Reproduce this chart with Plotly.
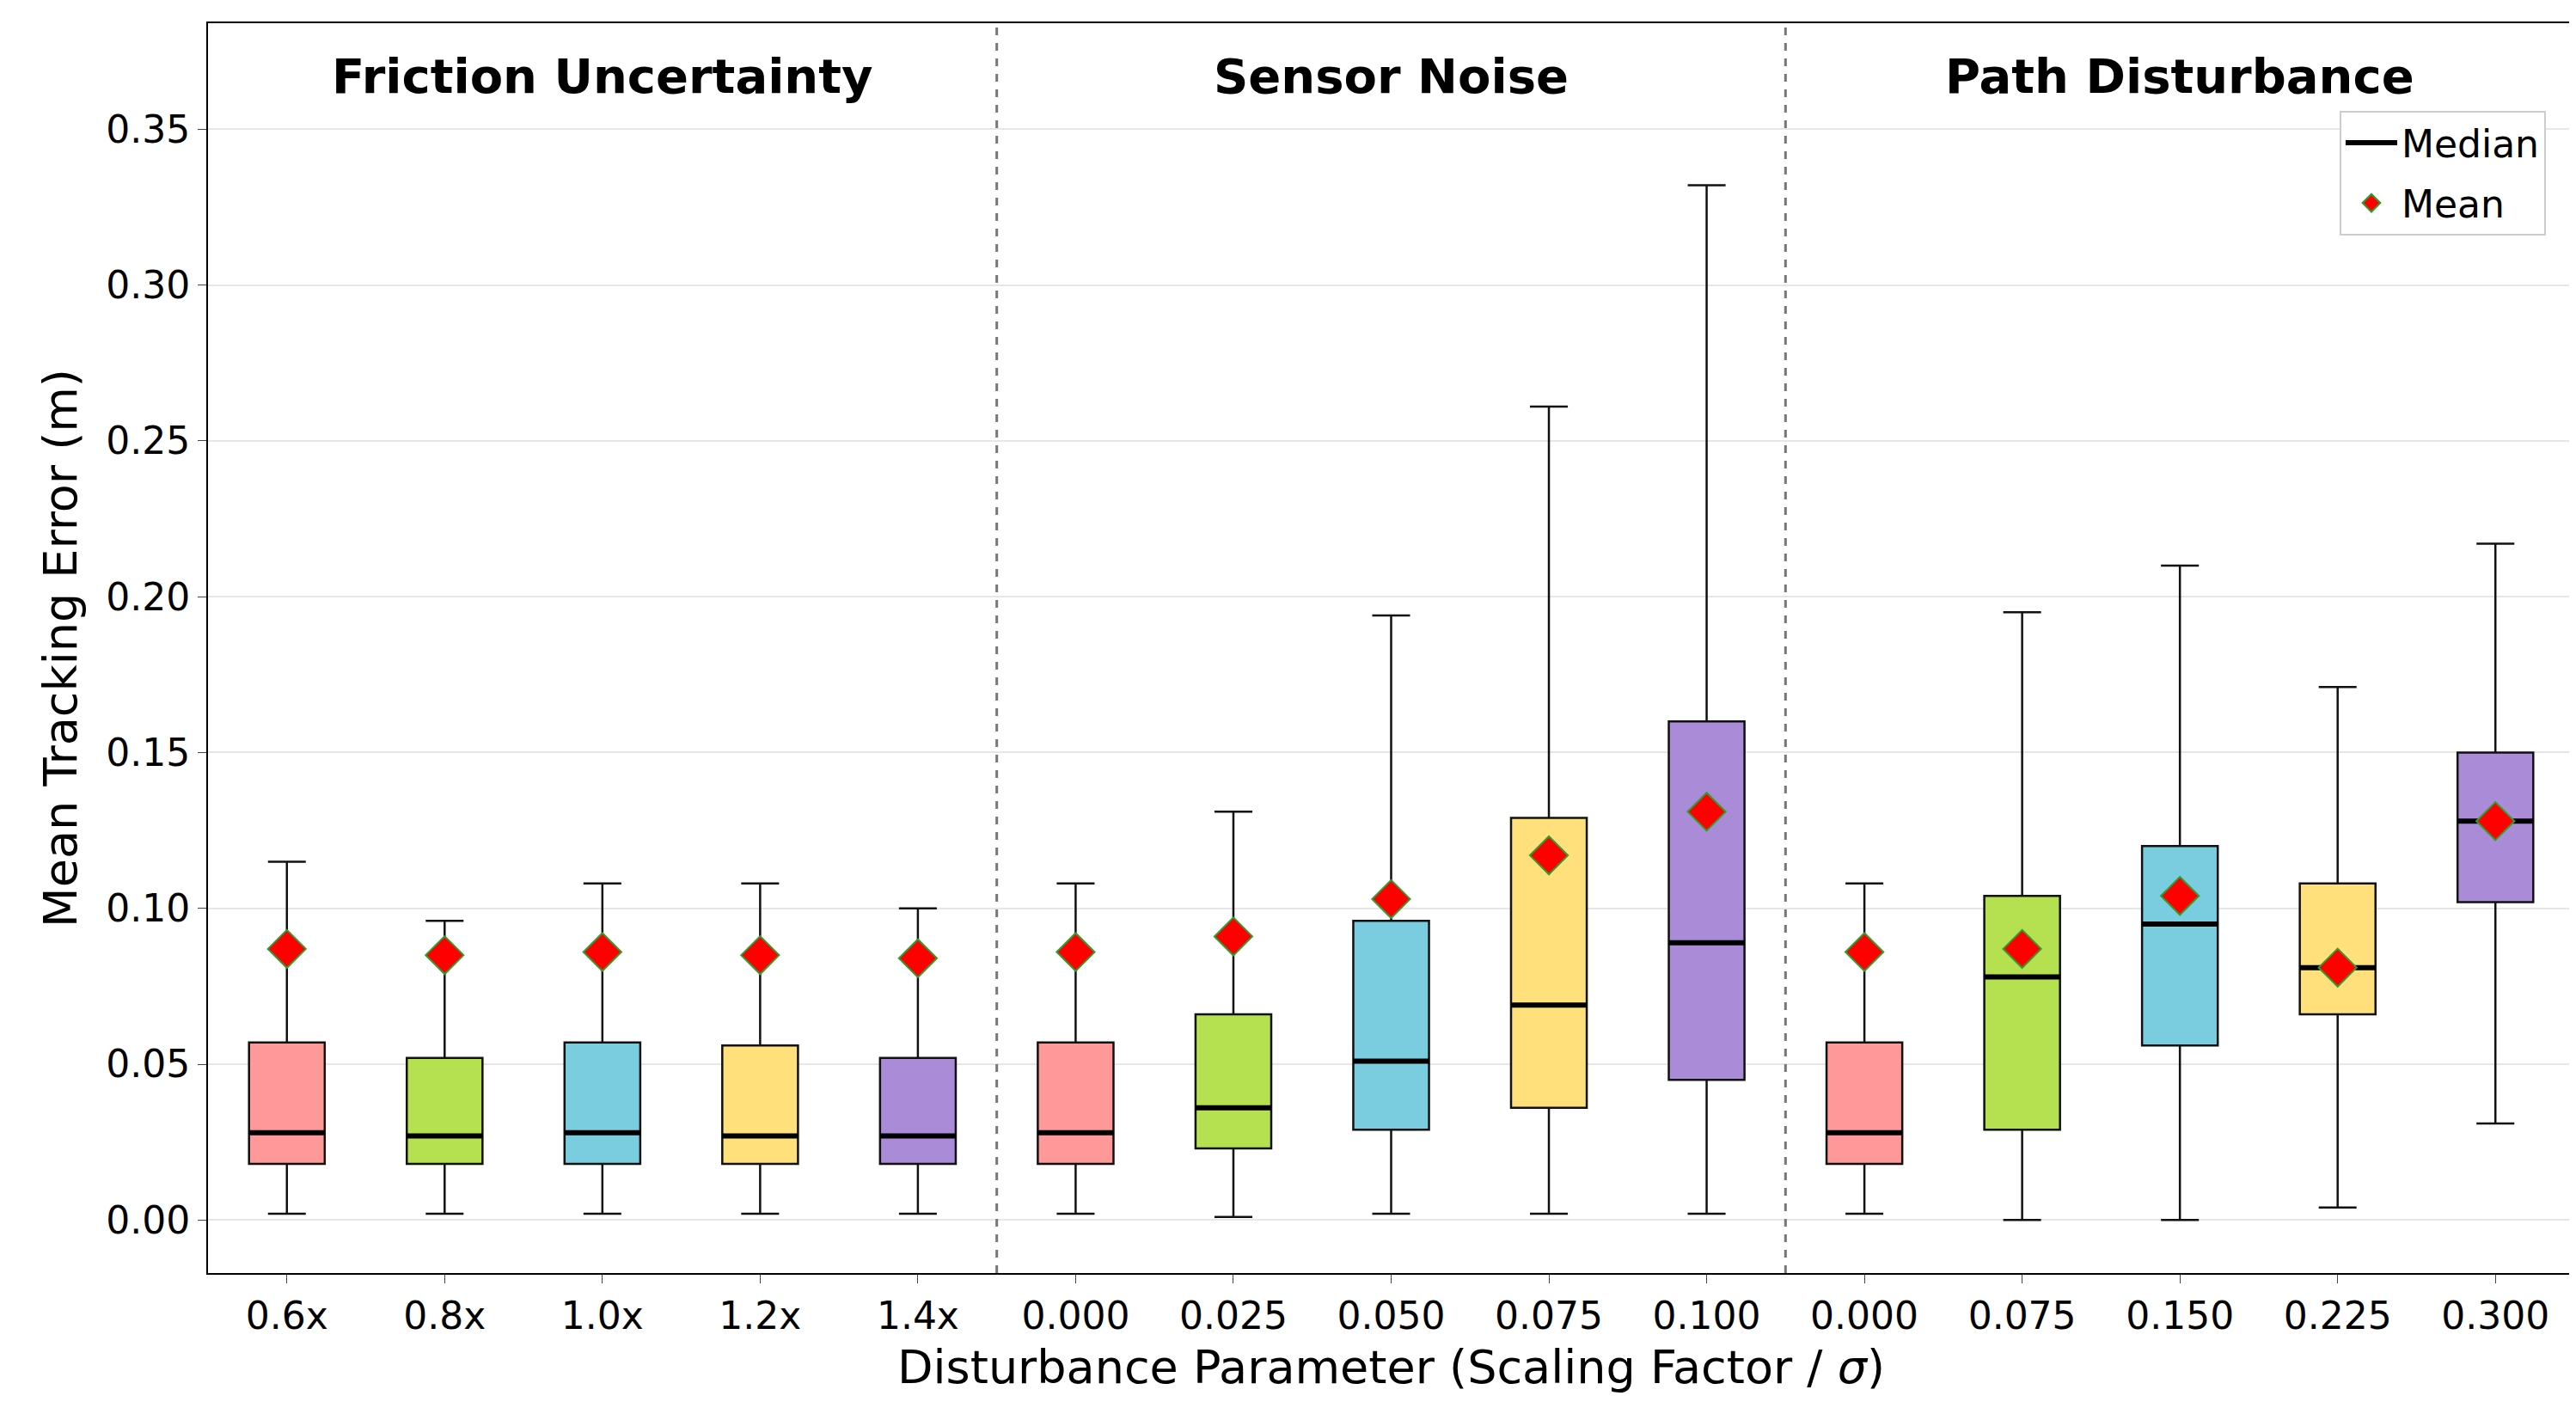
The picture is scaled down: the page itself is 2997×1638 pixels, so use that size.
import plotly.graph_objects as go

# ── data ──
tick_labels = ["0.6x", "0.8x", "1.0x", "1.2x", "1.4x",
               "0.000", "0.025", "0.050", "0.075", "0.100",
               "0.000", "0.075", "0.150", "0.225", "0.300"]
groups = ["Friction Uncertainty", "Sensor Noise", "Path Disturbance"]
lower = [0.002, 0.002, 0.002, 0.002, 0.002,
         0.002, 0.001, 0.002, 0.002, 0.002,
         0.002, 0.000, 0.000, 0.004, 0.031]
q1 = [0.018, 0.018, 0.018, 0.018, 0.018,
      0.018, 0.023, 0.029, 0.036, 0.045,
      0.018, 0.029, 0.056, 0.066, 0.102]
median = [0.028, 0.027, 0.028, 0.027, 0.027,
          0.028, 0.036, 0.051, 0.069, 0.089,
          0.028, 0.078, 0.095, 0.081, 0.128]
q3 = [0.057, 0.052, 0.057, 0.056, 0.052,
      0.057, 0.066, 0.096, 0.129, 0.160,
      0.057, 0.104, 0.120, 0.108, 0.150]
upper = [0.115, 0.096, 0.108, 0.108, 0.100,
         0.108, 0.131, 0.194, 0.261, 0.332,
         0.108, 0.195, 0.210, 0.171, 0.217]
mean = [0.087, 0.085, 0.086, 0.085, 0.084,
        0.086, 0.091, 0.103, 0.117, 0.131,
        0.086, 0.087, 0.104, 0.081, 0.128]
palette = ["#FF9999", "#B5E04F", "#7ACCDF", "#FFE07A", "#A98BD8"]

FONT = "DejaVu Sans"
xs = list(range(len(tick_labels)))
half = 0.24

fig = go.Figure()
for i in xs:
    fig.add_trace(go.Box(
        x=[i], q1=[q1[i]], median=[median[i]], q3=[q3[i]],
        lowerfence=[lower[i]], upperfence=[upper[i]],
        width=2 * half, whiskerwidth=0.5,
        fillcolor=palette[i % 5], line=dict(color="#111111", width=2.5),
        showlegend=False, hoverinfo="skip"))
    fig.add_trace(go.Scatter(
        x=[i - half, i + half], y=[median[i], median[i]], mode="lines",
        line=dict(color="black", width=6), showlegend=(i == 0),
        name="Median", legendgroup="med"))

fig.add_trace(go.Scatter(
    x=xs, y=mean, mode="markers", name="Mean",
    marker=dict(symbol="diamond", size=34, color="red",
                line=dict(color="#2E9E2E", width=2))))

for xv in (4.5, 9.5):
    fig.add_vline(x=xv, line=dict(color="#777777", width=3, dash="dash"))
for k, g in enumerate(groups):
    fig.add_annotation(x=2 + 5 * k, y=0.367, text=f"<b>{g}</b>", showarrow=False,
                       font=dict(family=FONT, size=56, color="black"))

fig.update_layout(
    width=2997, height=1638, plot_bgcolor="white", paper_bgcolor="white",
    margin=dict(l=234, r=8, t=19, b=165),
    font=dict(family=FONT, size=44, color="black"),
    legend=dict(x=0.988, y=0.93, xanchor="right", yanchor="top",
                bordercolor="#cccccc", borderwidth=2, bgcolor="white",
                font=dict(size=44), itemwidth=60, tracegroupgap=10),
    xaxis=dict(range=[-0.5, 14.5], tickvals=xs, ticktext=tick_labels,
               showgrid=False, zeroline=False, showline=True, mirror=True,
               linecolor="black", linewidth=2, ticks="outside", ticklen=10,
               title=dict(text="Disturbance Parameter (Scaling Factor / <i>σ</i>)",
                          font=dict(size=54), standoff=16)),
    yaxis=dict(range=[-0.017, 0.384], tickvals=[0, 0.05, 0.1, 0.15, 0.2, 0.25, 0.3, 0.35],
               tickformat=".2f", showgrid=True, gridcolor="#e6e6e6", gridwidth=2,
               zeroline=False, showline=True, mirror=True, linecolor="black",
               linewidth=2, ticks="outside", ticklen=10,
               title=dict(text="Mean Tracking Error (m)", font=dict(size=54), standoff=16)),
)

fig.write_html("out.html")
